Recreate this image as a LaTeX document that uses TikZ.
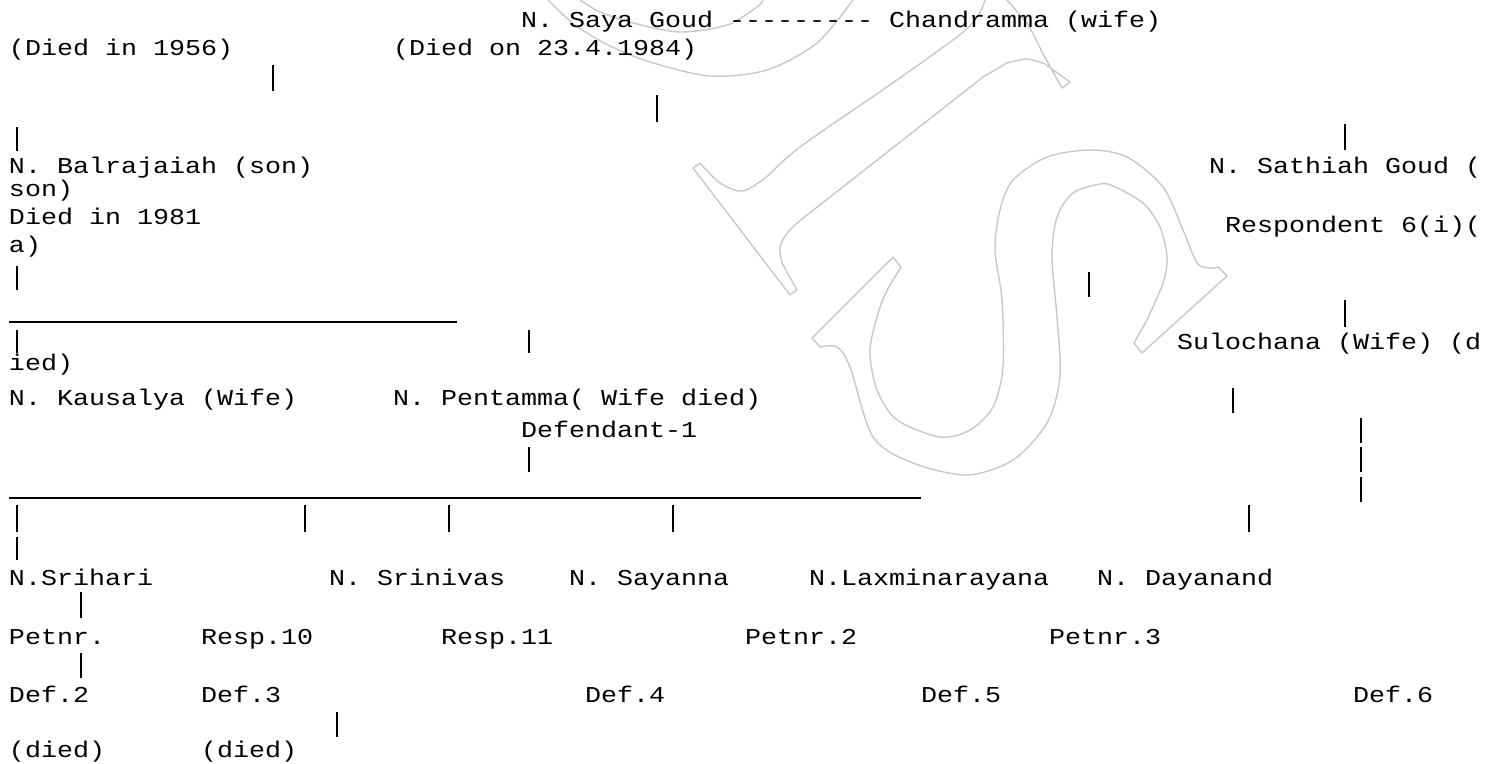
\documentclass[tikz,border=0pt]{standalone}
\usepackage{fontspec}
\newfontfamily\monofam[FakeStretch=1.175]{Liberation Mono}
\definecolor{wmgray}{RGB}{200,200,200}
\begin{document}
\begin{tikzpicture}[x=1pt,y=-1pt,
  txt/.style={anchor=base west, inner sep=0pt, outer sep=0pt, text=black,
    font=\monofam\fontsize{22.7}{27}\selectfont},
  vbar/.style={line width=1.3pt, black},
  uline/.style={line width=1.3pt, black},
  wmark/.style={draw=wmgray, line width=1.4pt, line join=round}]
\fill[white] (0,0) rectangle (1499,763);
\useasboundingbox (0,0) rectangle (1499,763);
% watermark
\draw[wmark] plot[smooth] coordinates {(548,0) (575,25) (610,46) (650,62) (710,76) (767,70) (817,43) (853,0)};
\draw[wmark] plot[smooth] coordinates {(580,0) (600,12) (633,23) (680,32) (727,25) (757,7) (763,0)};
\draw[wmark] plot[smooth] coordinates {(985,0) (979,14) (962,33) (897,80) (800,147) (765,178) (742,191) (720,183) (700,163)}
  -- (693,168) -- (790,295) -- (797,290)
  -- plot[smooth] coordinates {(782,263) (780,247) (788,232) (802,219)}
  -- (983,77) -- plot[smooth] coordinates {(1007,63) (1027,59) (1045,64)}
  -- (1070,82) -- (1062,88) -- plot[smooth] coordinates {(1042,52) (1028,25) (1007,0)};
\draw[wmark] (812,338) -- (893,257) -- (901,267)
  -- plot[smooth] coordinates {(890,285) (880,307) (870,350) (877,390) (897,420) (940,437) (970,430) (993,407) (1003,367) (1002,300) (995,250) (1000,210) (1013,180) (1047,157) (1090,150) (1127,157) (1163,187) (1183,230) (1197,263) (1210,268) (1218,267)}
  -- (1227,276) -- (1142,353) -- (1134,343)
  -- plot[smooth] coordinates {(1147,320) (1163,283) (1167,257) (1160,227) (1143,203) (1113,186) (1100,184) (1073,193) (1057,217) (1052,257) (1057,317) (1060,377) (1047,423) (1013,460) (967,475) (913,463) (873,437) (850,367) (837,347) (820,347)}
  -- cycle;
% text
\node[txt] (sayagoud) at (521,27.5) {N. Saya Goud -{}-{}-{}-{}-{}-{}-{}-{}- Chandramma (wife)};
\node[txt] (died1956) at (9,55.5) {(Died in 1956)};
\node[txt] (died1984) at (393,55.5) {(Died on 23.4.1984)};
\node[txt] (balraj) at (9,173) {N. Balrajaiah (son)};
\node[txt] (sathiah) at (1209,173) {N. Sathiah Goud (};
\node[txt] (son) at (9,196) {son)};
\node[txt] (died1981) at (9,224) {Died in 1981};
\node[txt] (resp6) at (1225,232) {Respondent 6(i)(};
\node[txt] (sona) at (9,252) {a)};
\node[txt] (sulochana) at (1177,349) {Sulochana (Wife) (d};
\node[txt] (ied) at (9,370) {ied)};
\node[txt] (kausalya) at (9,405) {N. Kausalya (Wife)};
\node[txt] (pentamma) at (393,405) {N. Pentamma( Wife died)};
\node[txt] (def1) at (521,437) {Defendant-1};
\node[txt] (srihari) at (9,585) {N.Srihari};
\node[txt] (srinivas) at (329,585) {N. Srinivas};
\node[txt] (sayanna) at (569,585) {N. Sayanna};
\node[txt] (laxmi) at (809,585) {N.Laxminarayana};
\node[txt] (dayanand) at (1097,585) {N. Dayanand};
\node[txt] (petnr) at (9,644) {Petnr.};
\node[txt] (resp10) at (201,644) {Resp.10};
\node[txt] (resp11) at (441,644) {Resp.11};
\node[txt] (petnr2) at (745,644) {Petnr.2};
\node[txt] (petnr3) at (1049,644) {Petnr.3};
\node[txt] (def2) at (9,702) {Def.2};
\node[txt] (def3) at (201,702) {Def.3};
\node[txt] (def4) at (585,702) {Def.4};
\node[txt] (def5) at (921,702) {Def.5};
\node[txt] (def6) at (1353,702) {Def.6};
\node[txt] (died2) at (9,757) {(died)};
\node[txt] (died3) at (201,757) {(died)};
% vertical bars
\draw[vbar] (273,65) -- (273,91);
\draw[vbar] (657,95) -- (657,122);
\draw[vbar] (17,127) -- (17,151);
\draw[vbar] (1345,124) -- (1345,150);
\draw[vbar] (17,266) -- (17,290);
\draw[vbar] (1089,272) -- (1089,297);
\draw[vbar] (1345,300) -- (1345,327);
\draw[vbar] (17,330) -- (17,353);
\draw[vbar] (529,330) -- (529,353);
\draw[vbar] (1233,388) -- (1233,413);
\draw[vbar] (1361,418) -- (1361,443);
\draw[vbar] (1361,447) -- (1361,472);
\draw[vbar] (1361,477) -- (1361,502);
\draw[vbar] (529,447) -- (529,472);
\draw[vbar] (17,505) -- (17,532);
\draw[vbar] (305,505) -- (305,532);
\draw[vbar] (449,505) -- (449,532);
\draw[vbar] (673,505) -- (673,532);
\draw[vbar] (1249,505) -- (1249,532);
\draw[vbar] (17,537) -- (17,560);
\draw[vbar] (81,592) -- (81,618);
\draw[vbar] (81,653) -- (81,678);
\draw[vbar] (337,712) -- (337,737);
% underscores
\draw[uline] (9,322) -- (457,322);
\draw[uline] (9,498) -- (921,498);
\end{tikzpicture}
\end{document}
